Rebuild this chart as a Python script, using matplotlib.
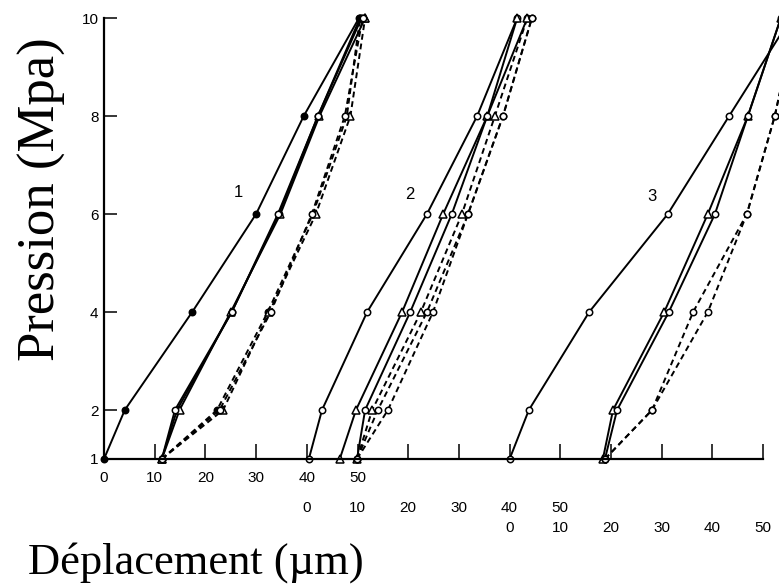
import numpy as np
import matplotlib
matplotlib.use("Agg")
import matplotlib.pyplot as plt

# Paliers de pression (MPa)
pression = [1, 2, 4, 6, 8, 10]

# Décalage de l'origine de chaque série sur l'axe commun (µm)
decalage = {1: 0, 2: 40, 3: 80}

# Série 1 : déplacements (µm) pour chaque palier
s1_charge_a = [0, 4.1, 17.4, 30.0, 39.4, 50.3]
s1_charge_b = [11.4, 14.4, 25.2, 34.5, 42.2, 50.5]
s1_charge_c = [11.4, 14.9, 25.0, 34.8, 42.5, 51.5]
s1_charge_d = [11.4, 14.0, 25.2, 34.3, 42.2, 50.8]
s1_decharge_a = [11.4, 22.3, 32.3, 41.2, 47.9, 50.5]
s1_decharge_b = [11.4, 23.5, 32.6, 41.8, 48.6, 51.5]
s1_decharge_c = [11.4, 22.8, 32.9, 41.0, 47.5, 51.0]

# Série 2
s2_charge_a = [0.4, 3.0, 11.9, 23.7, 33.6, 41.5]
s2_charge_b = [6.5, 9.7, 18.8, 26.9, 35.6, 41.5]
s2_charge_c = [9.9, 11.5, 20.4, 28.6, 35.6, 43.5]
s2_decharge_a = [9.9, 12.9, 22.5, 30.6, 37.1, 43.5]
s2_decharge_b = [9.9, 14.0, 23.7, 31.8, 38.7, 44.4]
s2_decharge_c = [9.9, 16.0, 24.9, 31.8, 38.7, 44.4]

# Série 3
s3_charge_a = [0, 3.8, 15.7, 31.2, 43.3, 55.5]
s3_charge_b = [18.4, 20.4, 30.5, 39.1, 47.0, 53.5]
s3_charge_c = [18.8, 21.2, 31.4, 40.5, 47.0, 53.5]
s3_decharge_a = [18.8, 28.1, 36.2, 46.8, 52.3, 56.5]
s3_decharge_b = [18.8, 28.1, 39.1, 46.8, 52.3, 56.5]

graduations = [0, 10, 20, 30, 40, 50]
pression_ticks = [1, 2, 4, 6, 8, 10]

# (série, valeurs, style, marqueur, plein)
courbes = [
    (1, s1_charge_a, '-', 'o', True),
    (1, s1_charge_b, '-', 'o', True),
    (1, s1_charge_c, '-', '^', False),
    (1, s1_charge_d, '-', 'o', False),
    (1, s1_decharge_a, '--', 'o', True),
    (1, s1_decharge_b, '--', '^', False),
    (1, s1_decharge_c, '--', 'o', False),
    (2, s2_charge_a, '-', 'o', False),
    (2, s2_charge_b, '-', '^', False),
    (2, s2_charge_c, '-', 'o', False),
    (2, s2_decharge_a, '--', '^', False),
    (2, s2_decharge_b, '--', 'o', False),
    (2, s2_decharge_c, '--', 'o', False),
    (3, s3_charge_a, '-', 'o', False),
    (3, s3_charge_b, '-', '^', False),
    (3, s3_charge_c, '-', 'o', False),
    (3, s3_decharge_a, '--', 'o', False),
    (3, s3_decharge_b, '--', 'o', False),
]

fig = plt.figure(figsize=(7.79, 5.87), dpi=100)
ax = fig.add_axes([104 / 779, 128 / 587, 675 / 779, 441 / 587])

for serie, vals, ls, mk, plein in courbes:
    x = np.array(vals) + decalage[serie]
    ms = 6.0 if mk == '^' else 4.6
    ax.plot(x, pression, color='black', linestyle=ls, linewidth=1.4,
            dashes=(3, 2) if ls == '--' else (None, None),
            marker=mk, markersize=ms, markeredgewidth=1.1,
            markerfacecolor='black' if plein else 'white',
            markeredgecolor='black', clip_on=False)

ax.set_xlim(0, 675 / 5.07)
ax.set_ylim(1, 10)

for side in ['top', 'right']:
    ax.spines[side].set_visible(False)
ax.spines['left'].set_bounds(1, 10)
ax.spines['bottom'].set_bounds(0, 130)
ax.spines['left'].set_linewidth(1.6)
ax.spines['bottom'].set_linewidth(1.6)

ax.set_xticks(np.arange(10, 131, 10))
ax.tick_params(axis='x', direction='in', length=11, width=1.1, labelbottom=False)
ax.set_yticks(pression_ticks)
ax.set_yticklabels([str(v) for v in pression_ticks], family='Liberation Sans', fontsize=11)
ax.tick_params(axis='y', direction='in', length=9, width=1.1, pad=4)

# Trois rangées de graduations, une par série
rangees = [(1, 14), (2, 35), (3, 50)]
for serie, dy in rangees:
    for g in graduations:
        ax.annotate(str(g), xy=(g + decalage[serie], 0), xycoords=('data', 'axes fraction'),
                    xytext=(0, -dy), textcoords='offset points',
                    ha='center', va='center', fontsize=11, family='Liberation Sans')

# Numéros des séries
for txt, xg, yp in [('1', 26.6, 6.43), ('2', 60.4, 6.39), ('3', 108.1, 6.35)]:
    ax.text(xg, yp, txt, fontsize=12, family='Liberation Sans', ha='center', va='center')

fig.text(42 / 779, 1 - 199 / 587, 'Pression (Mpa)', rotation=90, ha='center', va='center',
         fontsize=38, family='Liberation Serif')
fig.text(196 / 779, 1 - 563 / 587, 'Déplacement (µm)', ha='center', va='center',
         fontsize=32, family='Liberation Serif')

fig.savefig('out.png', dpi=100)
